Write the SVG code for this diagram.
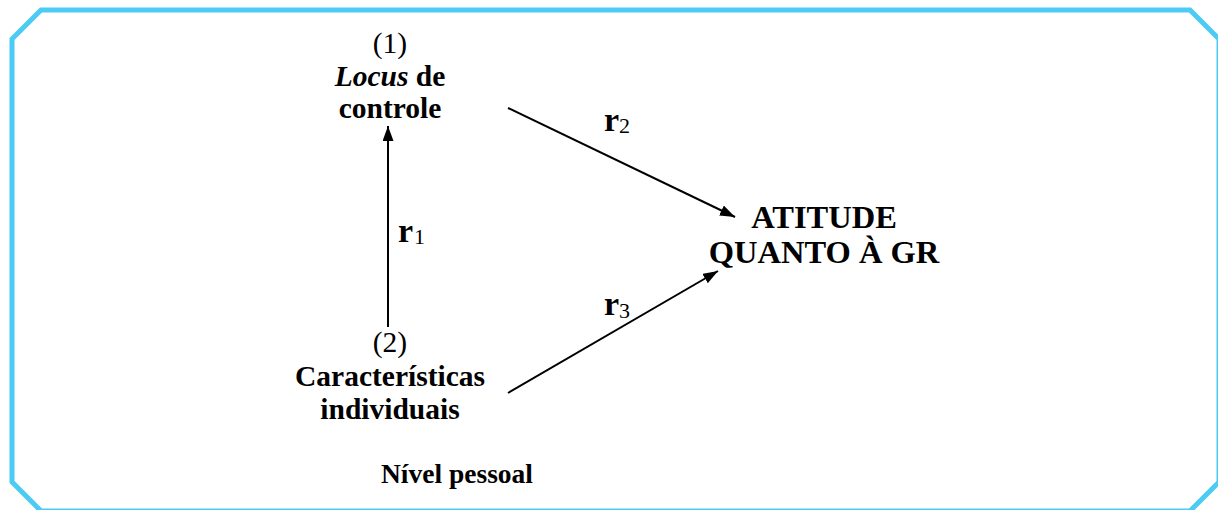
<svg xmlns="http://www.w3.org/2000/svg" width="1218" height="510" viewBox="0 0 1218 510">
<style>
text{font-family:"Liberation Serif","Times New Roman",serif;fill:#000;text-anchor:middle}
.n{font-size:29.5px;font-weight:bold}
.p{font-size:29.5px;font-weight:normal}
.big{font-size:32.5px;font-weight:bold}
.lvl{font-size:27.5px;font-weight:bold}
.r{font-size:34px;font-weight:bold;text-anchor:start}
.s{font-size:22px;font-weight:normal;text-anchor:start}
.c{stroke:#000;stroke-width:2;fill:none;marker-end:url(#ah)}
</style>
<defs>
<marker id="ah" markerUnits="userSpaceOnUse" markerWidth="16" markerHeight="12" refX="15" refY="5.5" orient="auto">
<path d="M0,0 L15,5.5 L0,11 z" fill="#000"/>
</marker>
</defs>
<rect width="1218" height="510" fill="#fff"/>
<g id="frame">
<polygon points="41,10 1190,10 1219,39 1219,482 1190,511 41,511 12,482 12,39" fill="none" stroke="#4CCBF4" stroke-width="5"/>
</g>
<g id="connectors">
<line class="c" x1="388" y1="327" x2="388" y2="126"/>
<line class="c" x1="508" y1="108" x2="735" y2="217"/>
<line class="c" x1="508" y1="393" x2="718" y2="271"/>
<text class="r" x="398" y="242">r</text><text class="s" x="414" y="244">1</text>
<text class="r" x="604" y="131">r</text><text class="s" x="619" y="133">2</text>
<text class="r" x="604" y="315">r</text><text class="s" x="619" y="318">3</text>
</g>
<g id="node1">
<text class="p" x="390" y="53">(1)</text>
<text class="n" x="390" y="86"><tspan font-style="italic">Locus</tspan> de</text>
<text class="n" x="390" y="118">controle</text>
</g>
<g id="node2">
<text class="p" x="390" y="352">(2)</text>
<text class="n" x="390" y="386">Características</text>
<text class="n" x="390" y="419">individuais</text>
</g>
<g id="node3">
<text class="big" x="824" y="228">ATITUDE</text>
<text class="big" x="824" y="263">QUANTO À GR</text>
</g>
<g id="level">
<text class="lvl" x="457" y="483">Nível pessoal</text>
</g>
</svg>
